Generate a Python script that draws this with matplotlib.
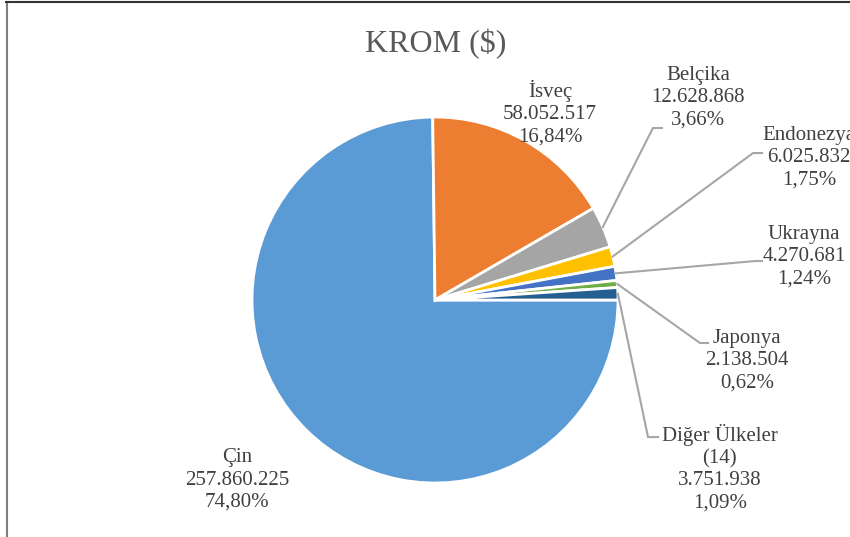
import matplotlib
matplotlib.use("Agg")
from matplotlib import pyplot as plt
from matplotlib.lines import Line2D
import numpy as np

# Veriler
countries = ["Çin", "İsveç", "Belçika", "Endonezya", "Ukrayna", "Japonya", "Diğer Ülkeler\n(14)"]
values = [257860225, 58052517, 12628868, 6025832, 4270681, 2138504, 3751938]
percents = ["74,80%", "16,84%", "3,66%", "1,75%", "1,24%", "0,62%", "1,09%"]
values_txt = ["257.860.225", "58.052.517", "12.628.868", "6.025.832", "4.270.681", "2.138.504", "3.751.938"]
colors = ["#5B9BD5", "#ED7D31", "#A5A5A5", "#FFC000", "#4472C4", "#70AD47", "#255E91"]

# Etiket yerleşimi (pasta yarıçapı birimi)
label_pos = [(-1.082, -0.984), (0.628, 1.022), (1.437, 1.104), (2.044, 0.776),
             (2.016, 0.235), (1.705, -0.333), (1.557, -0.918)]
# kılavuz çizgisi: (dirsek, uç) ya da None
leaders = [None, None,
           ((1.191, 0.940), (1.240, 0.940)),
           ((1.738, 0.803), (1.787, 0.803)),
           ((1.749, 0.213), (1.787, 0.213)),
           ((1.448, -0.235), (1.492, -0.235)),
           ((1.164, -0.749), (1.219, -0.749))]

text_color = "#404040"
fig = plt.figure(figsize=(8.5, 5.37), dpi=100)

# pasta: merkez (435, 300) px, yarıçap 183 px
cx, cy, r = 435, 300, 183
W, H = 850, 537
ax = fig.add_axes([(cx - r) / W, (H - cy - r) / H, 2 * r / W, 2 * r / H])
wedges, _ = ax.pie(values, colors=colors, startangle=0, counterclock=False,
                   radius=1.0, wedgeprops=dict(edgecolor="white", linewidth=2))
ax.set_xlim(-1, 1)
ax.set_ylim(-1, 1)
ax.axis("off")

for i, w in enumerate(wedges):
    lx, ly = label_pos[i]
    ax.text(lx, ly, f"{countries[i]}\n{values_txt[i]}\n{percents[i]}",
            ha="center", va="center", multialignment="center",
            fontsize=15, family="Liberation Serif", color=text_color,
            linespacing=1.22, clip_on=False)
    if leaders[i] is not None:
        ang = np.deg2rad((w.theta1 + w.theta2) / 2)
        (ex, ey), (tx, ty) = leaders[i]
        ax.plot([np.cos(ang), ex, tx], [np.sin(ang), ey, ty], color="#A6A6A6",
                lw=1.5, clip_on=False, solid_joinstyle="miter")

fig.text(436 / W, 1 - 44 / H, "KROM ($)", ha="center", va="center",
         fontsize=23, family="Liberation Serif", color="#595959")

# grafik çerçevesi (sol ve üst kenar)
fig.add_artist(Line2D([6.5 / W, 6.5 / W], [0, 1 - 2 / H], transform=fig.transFigure,
                      color="#808080", lw=1.5))
fig.add_artist(Line2D([6 / W, 1], [1 - 2 / H, 1 - 2 / H], transform=fig.transFigure,
                      color="#333333", lw=1.5))

fig.savefig("out.png", dpi=100)
